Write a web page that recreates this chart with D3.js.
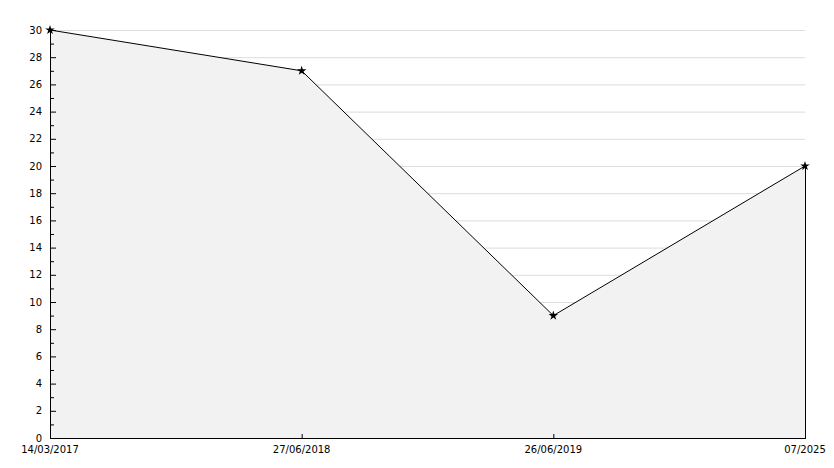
<!DOCTYPE html>
<html><head><meta charset="utf-8">
<script src="https://cdn.jsdelivr.net/npm/d3@7"></script>
<style>body{margin:0;background:#fff}svg text{font-family:"DejaVu Sans",Verdana,sans-serif;font-size:10px;fill:#000}</style>
</head><body>
<svg id="c" width="834" height="468"></svg>
<script>
const categories = ["14/03/2017","27/06/2018","26/06/2019","07/2025"];
const values = [30, 27, 9, 20];
const yTicks = d3.range(0, 31, 2);
const yMinor = d3.range(1, 30, 2);

const svg = d3.select("#c");
const mLeft = 50, mRight = 805, mTop = 30, mBottom = 438;
const x = d3.scalePoint().domain(categories).range([mLeft, mRight]);
const y = d3.scaleLinear().domain([0, 30]).range([mBottom, mTop]);

// grid
svg.append("g").selectAll("line").data(yTicks.filter(d=>d>0)).join("line")
  .attr("x1", mLeft).attr("x2", mRight).attr("y1", d=>y(d)+0.5).attr("y2", d=>y(d)+0.5)
  .attr("stroke", "#dcdcdc").attr("stroke-width", 1);

const data = categories.map((c,i)=>({c, v: values[i]}));
// area
svg.append("path").datum(data)
  .attr("d", d3.area().x(d=>x(d.c)).y0(y(0)).y1(d=>y(d.v)))
  .attr("fill", "#f2f2f2");
// right edge
svg.append("line").attr("x1", mRight+0.5).attr("x2", mRight+0.5)
  .attr("y1", y(values[values.length-1])).attr("y2", mBottom).attr("stroke", "#000");
// line
svg.append("path").datum(data)
  .attr("d", d3.line().x(d=>x(d.c)).y(d=>y(d.v)))
  .attr("fill", "none").attr("stroke", "#000").attr("stroke-width", 1);

// y axis
svg.append("line").attr("x1", mLeft+0.5).attr("x2", mLeft+0.5).attr("y1", mTop).attr("y2", mBottom+0.5).attr("stroke", "#000");
svg.append("g").selectAll("line").data(yTicks).join("line")
  .attr("x1", mLeft).attr("x2", mLeft+6).attr("y1", d=>y(d)+0.5).attr("y2", d=>y(d)+0.5).attr("stroke", "#000");
svg.append("g").selectAll("line").data(yMinor).join("line")
  .attr("x1", mLeft).attr("x2", mLeft+4).attr("y1", d=>y(d)+0.5).attr("y2", d=>y(d)+0.5).attr("stroke", "#000");
svg.append("g").selectAll("text").data(yTicks).join("text")
  .attr("x", 42).attr("y", d=>y(d)).attr("dy", "0.35em").attr("text-anchor", "end").text(d=>d);

// x axis
svg.append("line").attr("x1", mLeft).attr("x2", mRight+1).attr("y1", mBottom+0.5).attr("y2", mBottom+0.5).attr("stroke", "#000");
svg.append("g").selectAll("line").data(categories).join("line")
  .attr("x1", d=>x(d)+0.5).attr("x2", d=>x(d)+0.5).attr("y1", mBottom-4).attr("y2", mBottom).attr("stroke", "#000");
svg.append("g").selectAll("text").data(categories).join("text")
  .attr("x", d=>x(d)).attr("y", 449).attr("dy", "0.35em").attr("text-anchor", "middle").text(d=>d);

// markers
svg.append("g").selectAll("path").data(data).join("path")
  .attr("transform", d=>`translate(${x(d.c)},${y(d.v)})`)
  .attr("d", d3.symbol().type(d3.symbolStar).size(28))
  .attr("fill", "#000");
</script>
</body></html>
